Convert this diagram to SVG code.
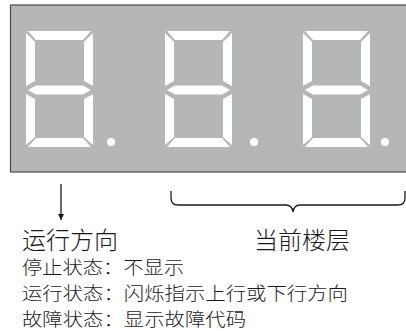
<svg xmlns="http://www.w3.org/2000/svg" width="406" height="331" viewBox="0 0 406 331">
<style>
.seg{fill:#ffffff}
.big{font-family:"Noto Sans CJK SC","Noto Sans",sans-serif;font-size:24px;font-weight:300;fill:#1a1a1a}
.small{font-family:"Noto Sans CJK SC","Noto Sans",sans-serif;font-size:18px;font-weight:300;fill:#1a1a1a}
.conn{fill:none;stroke:#1a1a1a;stroke-width:1.3}
</style>
<defs>
<marker id="ah" viewBox="0 0 10 10" refX="10" refY="5" markerWidth="6" markerHeight="6" markerUnits="userSpaceOnUse" orient="auto">
<path d="M0,0 L10,5 L0,10 z" fill="#1a1a1a"/>
</marker>
<g id="digit">
<polygon class="seg" points="28,31 91,31 83,40 36,40"/>
<polygon class="seg" points="26,33 35,42 35,81 26,86"/>
<polygon class="seg" points="93,33 84,42 84,81 93,86"/>
<polygon class="seg" points="28,90 36,85.5 83,85.5 91,90 83,94.5 36,94.5"/>
<polygon class="seg" points="26,94 35,99 35,137 26,145"/>
<polygon class="seg" points="93,94 84,99 84,137 93,145"/>
<polygon class="seg" points="36,138 83,138 91,147 28,147"/>
</g>
</defs>
<rect x="0" y="0" width="406" height="331" fill="#ffffff"/>
<g id="panel">
<rect x="10.5" y="5" width="400" height="167" fill="#b5b6b8" stroke="#4a4a4a" stroke-width="1.2"/>
</g>
<g id="digit1">
<use href="#digit"/>
<circle cx="111" cy="142" r="4" fill="#ffffff"/>
</g>
<g id="digit2">
<use href="#digit" transform="translate(139,0)"/>
<circle cx="254" cy="142" r="4" fill="#ffffff"/>
</g>
<g id="digit3">
<use href="#digit" transform="translate(277,0)"/>
<circle cx="385" cy="142" r="4" fill="#ffffff"/>
</g>
<g id="connectors">
<line class="conn" x1="61" y1="184" x2="61" y2="220" marker-end="url(#ah)"/>
<path class="conn" d="M171,191 V198 Q171,205 178,205 H286 Q292,205 293,212 Q294,205 300,205 H398 Q405,205 405,198 V191"/>
</g>
<g id="label-direction">
<text class="big" x="22" y="248.5">运行方向</text>
</g>
<g id="label-floor">
<text class="big" x="254" y="248.5">当前楼层</text>
</g>
<g id="notes">
<text class="small" x="22" y="274" textLength="162" lengthAdjust="spacingAndGlyphs">停止状态：不显示</text>
<text class="small" x="22" y="300" textLength="326" lengthAdjust="spacingAndGlyphs">运行状态：闪烁指示上行或下行方向</text>
<text class="small" x="22" y="326" textLength="224" lengthAdjust="spacingAndGlyphs">故障状态：显示故障代码</text>
</g>
</svg>
